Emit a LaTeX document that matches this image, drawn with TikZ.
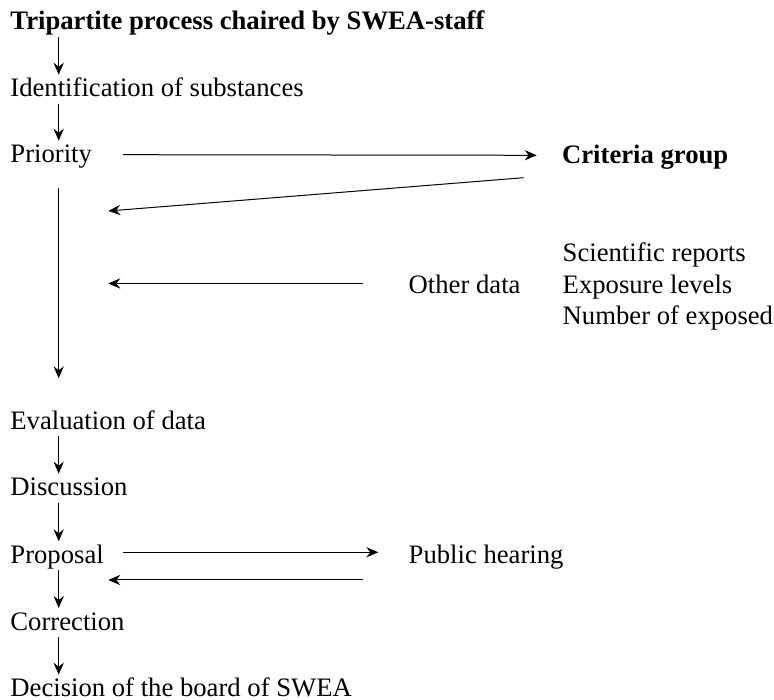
\documentclass[tikz,border=0pt]{standalone}
\usepackage{fontspec}
\setmainfont{Liberation Serif}
\usetikzlibrary{arrows.meta,calc}

\begin{document}
\begin{tikzpicture}[
    x=.45pt, y=-.45pt,
    every node/.style={anchor=base west, inner sep=0pt, font=\fontsize{12}{14}\selectfont},
    flow/.style={-{Stealth[length=5.4pt,width=4.6pt,inset=1.8pt]}, line width=.45pt},
]

    \useasboundingbox (0,0) rectangle (774,700);

    \coordinate (col) at (58.7,0);
    \coordinate (rail) at (123,0);
    \coordinate (back) at (108.3,0);
    \coordinate (crit back) at (108.3,211);

    \node (title) at (10,30) {\bfseries Tripartite process chaired by SWEA-staff};
    \node (ident) at (10,96.7) {Identification of substances};
    \node (prio) at (10,162.7) {Priority};
    \node (crit) at (561.7,163.3) {\bfseries Criteria group};
    \node (sci) at (562.3,262) {Scientific reports};
    \node (expo) at (562.3,293.5) {Exposure levels};
    \node (num) at (562.3,325) {Number of exposed};
    \node (other) at (408.3,293.5) {Other data};
    \node (eval) at (10,429.3) {Evaluation of data};
    \node (disc) at (10,495.7) {Discussion};
    \node (prop) at (10,563.3) {Proposal};
    \node (pub) at (408.3,563.8) {Public hearing};
    \node (corr) at (10,630) {Correction};
    \node (dec) at (10,696.7) {Decision of the board of SWEA};

    \foreach \a/\b in {title/ident, ident/prio, eval/disc, disc/prop, prop/corr, corr/dec}
        \draw[flow] ($(\a.base -| col)+(0,7)$) -- ($(\b.base -| col)+(0,-22)$);

    \draw[flow] ($(prio.base -| col)+(0,25)$) -- ($(eval.base -| col)+(0,-51)$);

    \draw[flow] ($(prio.base -| rail)+(0,-8)$) -- ($(crit.base west)+(-25,-8)$);
    \draw[flow] ($(crit.base west)+(-38,14.4)$) -- (crit back);
    \draw[flow] ($(other.base west)+(-45,-10)$) -- ($(other.base west -| back)+(0,-10)$);

    \draw[flow] ($(prop.base -| rail)+(0,-11)$) -- ($(pub.base west)+(-30,-11.5)$);
    \draw[flow] ($(pub.base west)+(-45,16.2)$) -- ($(pub.base west -| back)+(0,16.2)$);

\end{tikzpicture}
\end{document}
